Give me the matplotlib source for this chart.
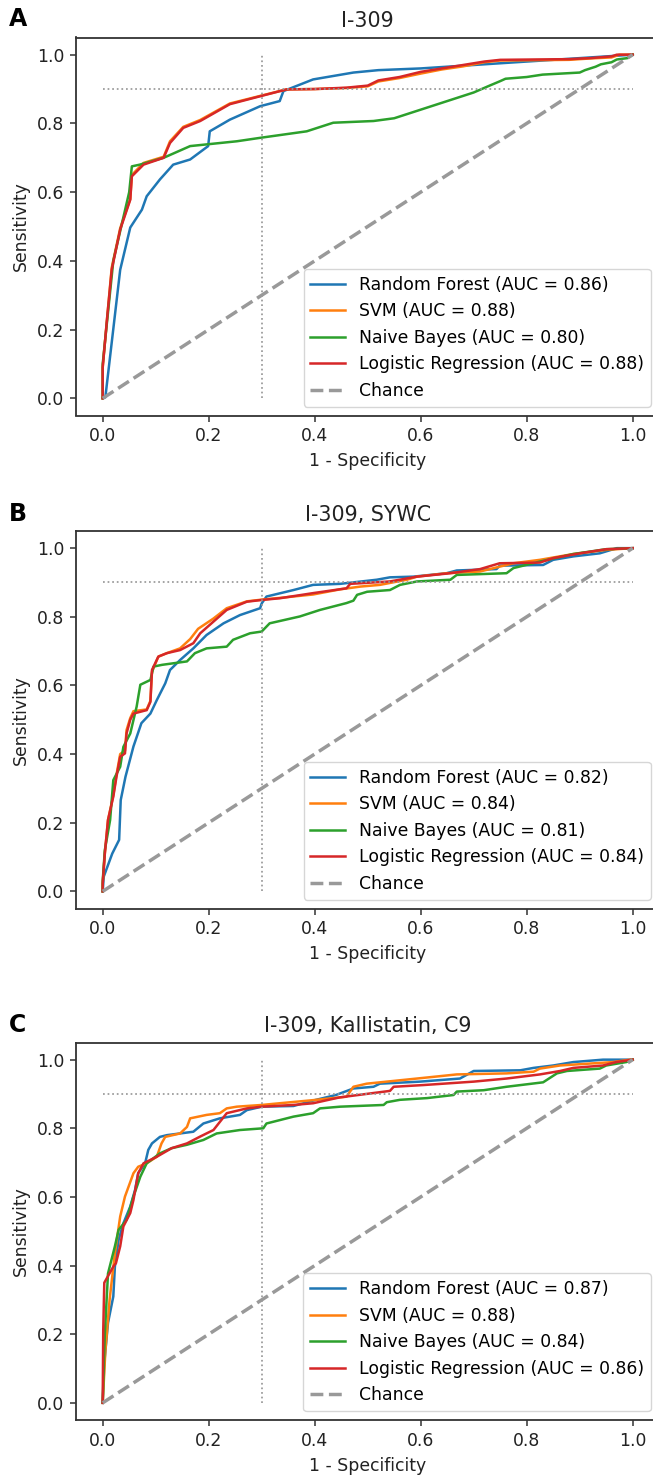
import matplotlib
matplotlib.use("Agg")
import matplotlib.pyplot as plt

# ---------------- data ----------------
panel_titles = ["I-309", "I-309, SYWC", "I-309, Kallistatin, C9"]
panel_letters = ["A", "B", "C"]
model_names = ["Random Forest", "SVM", "Naive Bayes", "Logistic Regression"]
model_colors = ["#1f77b4", "#ff7f0e", "#2ca02c", "#d62728"]
auc_A = [0.86, 0.88, 0.80, 0.88]
auc_B = [0.82, 0.84, 0.81, 0.84]
auc_C = [0.87, 0.88, 0.84, 0.86]

# Panel A (I-309)
A_rf_fpr = [0, 0.005, 0.033, 0.052, 0.074, 0.083, 0.108, 0.133, 0.165, 0.199, 0.202, 0.240, 0.297, 0.334, 0.341, 0.397, 0.473, 0.52, 0.60, 0.65, 0.70, 0.75, 1.0]
A_rf_tpr = [0, 0.003, 0.374, 0.497, 0.549, 0.588, 0.637, 0.680, 0.695, 0.734, 0.777, 0.811, 0.850, 0.865, 0.894, 0.928, 0.948, 0.955, 0.960, 0.965, 0.970, 0.975, 1.0]
A_svm_fpr = [0, 0, 0.008, 0.017, 0.033, 0.052, 0.055, 0.077, 0.115, 0.127, 0.152, 0.184, 0.240, 0.297, 0.347, 0.40, 0.46, 0.50, 0.52, 0.56, 0.60, 0.64, 0.68, 0.72, 0.75, 0.88, 0.92, 0.96, 0.975, 1.0]
A_svm_tpr = [0, 0.09, 0.228, 0.380, 0.495, 0.580, 0.650, 0.685, 0.703, 0.748, 0.790, 0.810, 0.858, 0.880, 0.899, 0.900, 0.903, 0.908, 0.922, 0.932, 0.945, 0.957, 0.966, 0.978, 0.983, 0.985, 0.989, 0.992, 1.0, 1.0]
A_nb_fpr = [0, 0, 0.01, 0.02, 0.035, 0.05, 0.055, 0.07, 0.115, 0.165, 0.253, 0.297, 0.385, 0.435, 0.511, 0.55, 0.58, 0.62, 0.66, 0.70, 0.73, 0.75, 0.76, 0.80, 0.83, 0.90, 0.91, 0.93, 0.94, 0.96, 0.97, 0.99, 1.0]
A_nb_tpr = [0, 0.10, 0.25, 0.40, 0.50, 0.60, 0.675, 0.680, 0.700, 0.734, 0.748, 0.758, 0.777, 0.802, 0.807, 0.815, 0.830, 0.850, 0.870, 0.890, 0.910, 0.923, 0.930, 0.935, 0.942, 0.948, 0.955, 0.965, 0.972, 0.978, 0.986, 0.990, 1.0]
A_lr_fpr = [0, 0, 0.008, 0.017, 0.033, 0.052, 0.055, 0.077, 0.115, 0.127, 0.152, 0.184, 0.240, 0.297, 0.347, 0.40, 0.46, 0.50, 0.52, 0.56, 0.60, 0.64, 0.68, 0.72, 0.75, 0.88, 0.92, 0.96, 0.97, 1.0]
A_lr_tpr = [0, 0.09, 0.228, 0.374, 0.491, 0.578, 0.646, 0.680, 0.700, 0.743, 0.787, 0.807, 0.856, 0.879, 0.899, 0.900, 0.904, 0.910, 0.925, 0.935, 0.950, 0.960, 0.970, 0.980, 0.985, 0.987, 0.990, 0.995, 1.0, 1.0]

# Panel B (I-309, SYWC)
B_rf_fpr = [0, 0.002, 0.018, 0.031, 0.034, 0.043, 0.058, 0.073, 0.090, 0.102, 0.118, 0.127, 0.146, 0.171, 0.196, 0.228, 0.259, 0.297, 0.300, 0.309, 0.360, 0.397, 0.448, 0.517, 0.542, 0.586, 0.649, 0.668, 0.743, 0.749, 0.831, 0.850, 0.888, 0.938, 0.970, 1.0]
B_rf_tpr = [0, 0.043, 0.110, 0.150, 0.266, 0.334, 0.422, 0.490, 0.518, 0.557, 0.606, 0.645, 0.674, 0.708, 0.747, 0.781, 0.805, 0.825, 0.839, 0.859, 0.878, 0.893, 0.896, 0.908, 0.915, 0.917, 0.927, 0.935, 0.939, 0.949, 0.951, 0.966, 0.976, 0.985, 1.0, 1.0]
B_svm_fpr = [0, 0, 0.004, 0.010, 0.020, 0.026, 0.033, 0.042, 0.045, 0.052, 0.058, 0.083, 0.090, 0.093, 0.105, 0.121, 0.146, 0.165, 0.180, 0.209, 0.234, 0.272, 0.300, 0.334, 0.397, 0.448, 0.486, 0.523, 0.574, 0.593, 0.649, 0.712, 0.775, 0.825, 0.888, 0.950, 1.0]
B_svm_tpr = [0, 0.023, 0.110, 0.208, 0.280, 0.340, 0.400, 0.410, 0.470, 0.505, 0.525, 0.530, 0.555, 0.640, 0.684, 0.694, 0.708, 0.735, 0.765, 0.795, 0.825, 0.845, 0.850, 0.855, 0.865, 0.880, 0.888, 0.893, 0.908, 0.917, 0.927, 0.932, 0.956, 0.966, 0.983, 0.995, 1.0]
B_nb_fpr = [0, 0, 0.004, 0.014, 0.020, 0.033, 0.039, 0.052, 0.064, 0.071, 0.090, 0.096, 0.112, 0.159, 0.174, 0.196, 0.234, 0.246, 0.278, 0.300, 0.315, 0.372, 0.410, 0.460, 0.473, 0.480, 0.499, 0.542, 0.561, 0.593, 0.656, 0.668, 0.762, 0.775, 0.825, 0.888, 0.950, 1.0]
B_nb_tpr = [0, 0.030, 0.120, 0.208, 0.324, 0.363, 0.421, 0.460, 0.538, 0.602, 0.616, 0.655, 0.660, 0.670, 0.694, 0.708, 0.713, 0.733, 0.752, 0.757, 0.781, 0.801, 0.820, 0.840, 0.847, 0.864, 0.873, 0.878, 0.893, 0.903, 0.908, 0.922, 0.927, 0.942, 0.961, 0.983, 0.997, 1.0]
B_lr_fpr = [0, 0, 0.004, 0.010, 0.020, 0.026, 0.033, 0.042, 0.045, 0.052, 0.058, 0.083, 0.090, 0.093, 0.105, 0.121, 0.146, 0.171, 0.184, 0.209, 0.234, 0.272, 0.300, 0.334, 0.397, 0.460, 0.467, 0.542, 0.593, 0.656, 0.712, 0.749, 0.825, 0.850, 0.901, 0.950, 1.0]
B_lr_tpr = [0, 0.023, 0.110, 0.208, 0.276, 0.334, 0.392, 0.402, 0.460, 0.500, 0.518, 0.528, 0.552, 0.645, 0.684, 0.694, 0.703, 0.723, 0.752, 0.786, 0.820, 0.844, 0.849, 0.854, 0.869, 0.883, 0.896, 0.903, 0.917, 0.927, 0.939, 0.956, 0.958, 0.971, 0.985, 0.997, 1.0]

# Panel C (I-309, Kallistatin, C9)
C_rf_fpr = [0, 0.003, 0.010, 0.020, 0.023, 0.030, 0.039, 0.052, 0.061, 0.067, 0.080, 0.086, 0.093, 0.108, 0.121, 0.146, 0.171, 0.190, 0.221, 0.259, 0.272, 0.300, 0.360, 0.400, 0.440, 0.473, 0.511, 0.523, 0.599, 0.674, 0.700, 0.788, 0.813, 0.850, 0.888, 0.944, 1.0]
C_rf_tpr = [0, 0.117, 0.233, 0.310, 0.397, 0.475, 0.523, 0.572, 0.620, 0.669, 0.698, 0.737, 0.756, 0.775, 0.780, 0.785, 0.790, 0.814, 0.829, 0.839, 0.853, 0.863, 0.865, 0.882, 0.897, 0.916, 0.921, 0.930, 0.936, 0.945, 0.967, 0.969, 0.976, 0.983, 0.993, 1.0, 1.0]
C_svm_fpr = [0, 0.005, 0.013, 0.023, 0.033, 0.042, 0.058, 0.067, 0.083, 0.102, 0.111, 0.118, 0.146, 0.159, 0.165, 0.196, 0.221, 0.234, 0.253, 0.300, 0.334, 0.397, 0.460, 0.473, 0.498, 0.593, 0.637, 0.668, 0.762, 0.813, 0.825, 0.863, 0.963, 0.995, 1.0]
C_svm_tpr = [0, 0.150, 0.300, 0.436, 0.543, 0.601, 0.669, 0.688, 0.698, 0.717, 0.756, 0.775, 0.785, 0.804, 0.829, 0.839, 0.844, 0.858, 0.863, 0.868, 0.873, 0.882, 0.892, 0.921, 0.930, 0.945, 0.952, 0.957, 0.960, 0.965, 0.974, 0.983, 0.993, 1.0, 1.0]
C_nb_fpr = [0, 0.004, 0.010, 0.023, 0.030, 0.045, 0.058, 0.071, 0.083, 0.108, 0.130, 0.159, 0.190, 0.215, 0.259, 0.303, 0.309, 0.360, 0.397, 0.410, 0.448, 0.530, 0.536, 0.561, 0.612, 0.662, 0.668, 0.719, 0.762, 0.831, 0.857, 0.876, 0.938, 0.950, 0.988, 1.0]
C_nb_tpr = [0, 0.200, 0.377, 0.456, 0.504, 0.533, 0.601, 0.659, 0.698, 0.727, 0.742, 0.752, 0.766, 0.785, 0.795, 0.800, 0.814, 0.834, 0.844, 0.858, 0.863, 0.868, 0.876, 0.883, 0.888, 0.897, 0.907, 0.911, 0.921, 0.934, 0.960, 0.967, 0.974, 0.983, 0.993, 1.0]
C_lr_fpr = [0, 0.001, 0.003, 0.020, 0.025, 0.033, 0.039, 0.052, 0.058, 0.067, 0.077, 0.102, 0.130, 0.159, 0.184, 0.209, 0.234, 0.272, 0.300, 0.360, 0.397, 0.447, 0.542, 0.549, 0.605, 0.700, 0.762, 0.825, 0.863, 0.888, 0.944, 0.969, 1.0]
C_lr_tpr = [0, 0.210, 0.350, 0.397, 0.407, 0.456, 0.514, 0.553, 0.591, 0.669, 0.698, 0.717, 0.742, 0.756, 0.776, 0.795, 0.844, 0.858, 0.863, 0.868, 0.873, 0.890, 0.909, 0.921, 0.926, 0.936, 0.945, 0.957, 0.967, 0.976, 0.983, 0.993, 1.0]

panel_curves = [
    [(A_rf_fpr, A_rf_tpr), (A_svm_fpr, A_svm_tpr), (A_nb_fpr, A_nb_tpr), (A_lr_fpr, A_lr_tpr)],
    [(B_rf_fpr, B_rf_tpr), (B_svm_fpr, B_svm_tpr), (B_nb_fpr, B_nb_tpr), (B_lr_fpr, B_lr_tpr)],
    [(C_rf_fpr, C_rf_tpr), (C_svm_fpr, C_svm_tpr), (C_nb_fpr, C_nb_tpr), (C_lr_fpr, C_lr_tpr)],
]
panel_aucs = [auc_A, auc_B, auc_C]
sens_cut = 0.9
fpr_cut = 0.3
tick_vals = [0.0, 0.2, 0.4, 0.6, 0.8, 1.0]

# ---------------- layout ----------------
W, H = 653, 1476
plt.rcParams["font.family"] = ["DejaVu Sans"]
fig = plt.figure(figsize=(W / 100, H / 100), dpi=100)
FS = 12.4

# axes boxes in pixels: (left, top, right, bottom)
boxes = [(76.2, 37.5, 659.2, 415.5), (76.2, 531.0, 659.2, 908.5), (76.2, 1042.5, 659.2, 1420.0)]
letter_y = [19, 513.5, 1025]

for i, (l, t, r, b) in enumerate(boxes):
    ax = fig.add_axes([l / W, 1 - b / H, (r - l) / W, (b - t) / H])
    for j, (fx, ty) in enumerate(panel_curves[i]):
        ax.plot(fx, ty, color=model_colors[j], lw=1.8,
                label=f"{model_names[j]} (AUC = {panel_aucs[i][j]:.2f})")
    ax.plot([0, 1], [0, 1], ls="--", lw=2.5, color="#999999", label="Chance")
    ax.plot([0, 1], [sens_cut, sens_cut], ls=":", lw=1.25, color="#999999")
    ax.plot([fpr_cut, fpr_cut], [0, 1], ls=":", lw=1.25, color="#999999")
    ax.set_xlim(-0.05, 1.05)
    ax.set_ylim(-0.05, 1.05)
    ax.set_xticks(tick_vals)
    ax.set_yticks(tick_vals)
    ax.tick_params(labelsize=FS, length=4.3, width=1.1, pad=4.3, color="#333333", labelcolor="#222222")
    for s in ax.spines.values():
        s.set_color("#333333")
        s.set_linewidth(1.3)
    ax.set_xlabel("1 - Specificity", fontsize=FS, color="#222222", labelpad=5)
    ax.set_ylabel("Sensitivity", fontsize=FS, color="#222222", labelpad=5)
    ax.set_title(panel_titles[i], fontsize=14.9, pad=7.4, color="#222222")
    ax.legend(loc="lower right", fontsize=FS, framealpha=0.8)
    fig.text(18 / W, 1 - letter_y[i] / H, panel_letters[i], fontsize=17, fontweight="bold",
             ha="center", va="center")

fig.savefig("out.png", dpi=100)
